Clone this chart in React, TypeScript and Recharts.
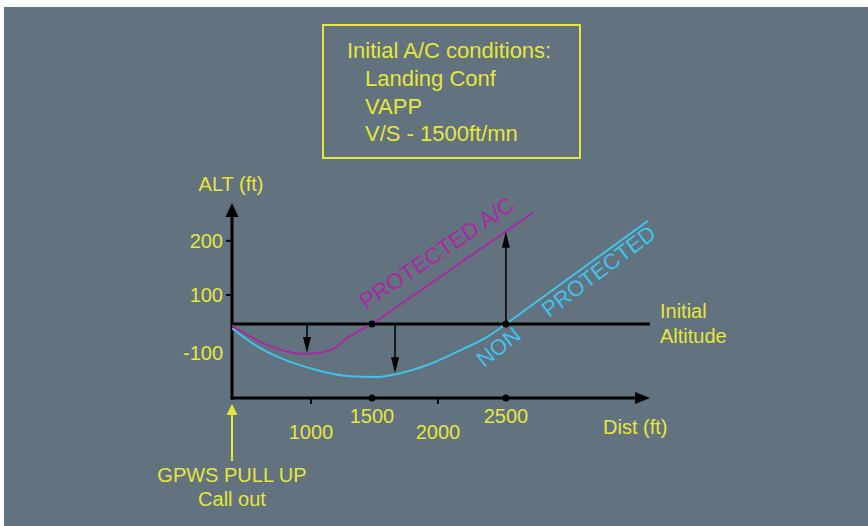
import React from "react";
import { LineChart, Line, XAxis, YAxis, ReferenceLine, ReferenceDot } from "recharts";

const YELLOW = "#e6e63c";
const PURPLE = "#a82aa2";
const CYAN = "#3fc3ea";
const BG = "#63727f";
const FONT = "'Liberation Sans', Arial, sans-serif";

// axis tick labels
const distTicksFt = [1000, 1500, 2000, 2500];
const altTicksFt = [-100, 100, 200];
const conditionLines = ["Landing Conf", "VAPP", "V/S - 1500ft/mn"];

// protected aircraft (purple): dip then climb
const protDistFt = [0, 390, 670, 950, 1160, 1300, 1500];
const protAltFt = [-5, -66, -93, -103, -90, -48, 0];
const protClimbDistFt = [1500, 2700];
const protClimbAltFt = [0, 252];

// non protected aircraft (cyan)
const nonDistFt = [0, 290, 610, 1015, 1295, 1520, 1690, 1940, 2185, 2360, 2500];
const nonAltFt = [-15, -72, -117, -155, -179, -183, -172, -138, -86, -45, 0];
const nonClimbDistFt = [2500, 3545];
const nonClimbAltFt = [0, 237];

// altitude loss / gain arrows, from the initial altitude
const arrowDistFt = [950, 1675, 2500];
const arrowToAltFt = [-100, -170, 217];

// the drawing's axes are schematic (not linear), so ft are mapped through these knots first
const distKnotsFt = [0, 1000, 1500, 2000, 2500];
const distKnotsUnit = [0, 79, 140, 206, 274];
const altKnotsFt = [-100, 0, 100, 200];
const altKnotsUnit = [-29, 0, 29, 83];

function piecewise(xs: number[], ys: number[]) {
  return (v: number) => {
    let i = 1;
    while (i < xs.length - 1 && v > xs[i]) i++;
    const t = (v - xs[i - 1]) / (xs[i] - xs[i - 1]);
    return ys[i - 1] + t * (ys[i] - ys[i - 1]);
  };
}
const wx = piecewise(distKnotsFt, distKnotsUnit);
const wy = piecewise(altKnotsFt, altKnotsUnit);

const X_END_FT = 3560;
const Y_BOTTOM_FT = -255;
const Y_TOP_FT = 270;

const toRows = (d: number[], a: number[]) => d.map((v, i) => ({ d: wx(v), alt: wy(a[i]) }));

function Arrow(p: any) {
  const { x1, y1, x2, y2, w = 1.5, head = 16, half = 4 } = p;
  const dx = x2 - x1;
  const dy = y2 - y1;
  const len = Math.hypot(dx, dy) || 1;
  const ux = dx / len;
  const uy = dy / len;
  const bx = x2 - ux * head;
  const by = y2 - uy * head;
  const nx = -uy;
  const ny = ux;
  const ext = w > 2 ? 1.5 : 0;
  return (
    <g>
      <line x1={x1 - ux * ext} y1={y1 - uy * ext} x2={bx + ux} y2={by + uy} stroke="#000" strokeWidth={w} />
      <polygon
        points={`${x2},${y2} ${bx + nx * half},${by + ny * half} ${bx - nx * half},${by - ny * half}`}
        fill="#000"
      />
    </g>
  );
}

function DistTick(props: any) {
  const { x, y, payload } = props;
  const idx = distTicksFt.findIndex((ft) => Math.abs(wx(ft) - payload.value) < 0.01);
  if (idx < 0) return null;
  const low = idx % 2 === 0;
  return (
    <g>
      {low && <line x1={x} y1={y} x2={x} y2={y + 6} stroke="#000" strokeWidth={2} />}
      <text x={x} y={y + (low ? 41 : 25)} textAnchor="middle" fill={YELLOW} fontSize={20} fontFamily={FONT}>
        {distTicksFt[idx]}
      </text>
    </g>
  );
}

function AltTick(props: any) {
  const { x, y, payload } = props;
  const idx = altTicksFt.findIndex((ft) => Math.abs(wy(ft) - payload.value) < 0.01);
  if (idx < 0) return null;
  return (
    <g>
      {altTicksFt[idx] > 0 && <line x1={x - 6} y1={y} x2={x} y2={y} stroke="#000" strokeWidth={2} />}
      <text x={x - 9} y={y + 7} textAnchor="end" fill={YELLOW} fontSize={20} fontFamily={FONT}>
        {altTicksFt[idx]}
      </text>
    </g>
  );
}

export default function App() {
  const yMin = wy(Y_BOTTOM_FT);
  const yMax = wy(Y_TOP_FT);
  const xMax = wx(X_END_FT);
  const txt = { fill: YELLOW, fontFamily: FONT, fontSize: 20 };

  return (
    <div style={{ position: "absolute", left: 0, top: 0, width: 868, height: 526, background: "#fff", overflow: "hidden" }}>
      <div style={{ position: "absolute", left: 4, top: 7, right: 0, bottom: 0, background: BG }} />
      <div style={{ position: "absolute", left: 0, top: 0 }}>
        <LineChart width={868} height={526} margin={{ top: 203, left: 192, right: 218, bottom: 98 }}>
          <XAxis
            type="number"
            dataKey="d"
            domain={[0, xMax]}
            allowDataOverflow
            ticks={distTicksFt.map(wx)}
            height={30}
            tickSize={0}
            tickMargin={0}
            axisLine={false}
            tickLine={false}
            tick={(p: any) => <DistTick {...p} />}
            interval={0}
          />
          <YAxis
            type="number"
            domain={[yMin, yMax]}
            allowDataOverflow
            ticks={altTicksFt.map(wy)}
            width={40}
            tickSize={0}
            tickMargin={0}
            axisLine={false}
            tickLine={false}
            tick={(p: any) => <AltTick {...p} />}
            interval={0}
          />
          <ReferenceLine y={0} stroke="#000" strokeWidth={3} ifOverflow="visible" />
          <ReferenceLine
            segment={[{ x: 0, y: yMin }, { x: 0, y: yMax }]}
            ifOverflow="visible"
            shape={(p: any) => <Arrow {...p} w={3} head={14} half={6.5} />}
          />
          <ReferenceLine
            segment={[{ x: 0, y: yMin }, { x: xMax, y: yMin }]}
            ifOverflow="visible"
            shape={(p: any) => <Arrow {...p} w={3} head={15} half={6} />}
          />
          <Line data={toRows(protDistFt, protAltFt)} dataKey="alt" type="monotone" stroke={PURPLE} strokeWidth={2} dot={false} isAnimationActive={false} />
          <Line data={toRows(protClimbDistFt, protClimbAltFt)} dataKey="alt" type="linear" stroke={PURPLE} strokeWidth={2} dot={false} isAnimationActive={false} />
          <Line data={toRows(nonDistFt, nonAltFt)} dataKey="alt" type="monotone" stroke={CYAN} strokeWidth={2} dot={false} isAnimationActive={false} />
          <Line data={toRows(nonClimbDistFt, nonClimbAltFt)} dataKey="alt" type="linear" stroke={CYAN} strokeWidth={2} dot={false} isAnimationActive={false} />
          {arrowDistFt.map((d, i) => (
            <ReferenceLine
              key={`arr-${i}`}
              segment={[{ x: wx(d), y: 0 }, { x: wx(d), y: wy(arrowToAltFt[i]) }]}
              ifOverflow="visible"
              shape={(p: any) => <Arrow {...p} />}
            />
          ))}
          {[1500, 2500].map((d) => (
            <ReferenceDot key={`a-${d}`} x={wx(d)} y={0} r={3.5} fill="#000" stroke="none" ifOverflow="visible" />
          ))}
          {[1500, 2500].map((d) => (
            <ReferenceDot key={`b-${d}`} x={wx(d)} y={yMin} r={3.5} fill="#000" stroke="none" ifOverflow="visible" />
          ))}
        </LineChart>
      </div>
      <svg width={868} height={526} style={{ position: "absolute", left: 0, top: 0, pointerEvents: "none" }}>
        <rect x={323} y={25} width={257} height={133} fill="none" stroke={YELLOW} strokeWidth={2} />
        <text x={347} y={58} {...txt} fontSize={22}>Initial A/C conditions:</text>
        {conditionLines.map((s, i) => (
          <text key={s} x={365} y={86 + i * 27.5} {...txt} fontSize={22}>{s}</text>
        ))}
        <text x={231} y={191} {...txt} textAnchor="middle">ALT (ft)</text>
        <text x={603} y={434} {...txt}>Dist (ft)</text>
        <text x={660} y={318} {...txt}>Initial</text>
        <text x={660} y={343} {...txt}>Altitude</text>
        <text x={232} y={482} {...txt} textAnchor="middle">GPWS PULL UP</text>
        <text x={232} y={506} {...txt} textAnchor="middle">Call out</text>
        <line x1={232} y1={412} x2={232} y2={461} stroke={YELLOW} strokeWidth={2} />
        <polygon points="232,404 226.5,415 237.5,415" fill={YELLOW} />
        <text x={366} y={310} fill={PURPLE} fontFamily={FONT} fontSize={22.5} transform="rotate(-34 366 310)">PROTECTED A/C</text>
        <text x={484} y={368} fill={CYAN} fontFamily={FONT} fontSize={22} transform="rotate(-38 484 368)">NON</text>
        <text x={549} y={318} fill={CYAN} fontFamily={FONT} fontSize={22} transform="rotate(-37 549 318)">PROTECTED</text>
      </svg>
    </div>
  );
}
